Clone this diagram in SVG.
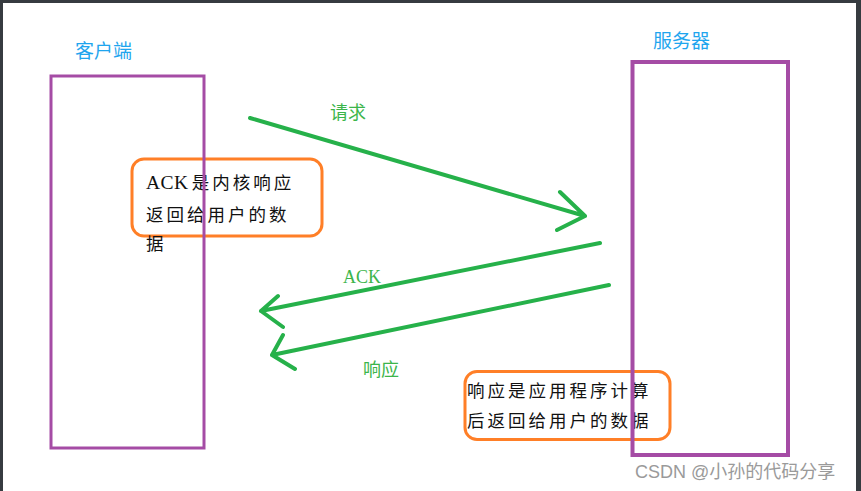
<svg xmlns="http://www.w3.org/2000/svg" width="861" height="491" viewBox="0 0 861 491">
<style>
.frame{fill:#363b40}
.host{fill:none;stroke:#a54ca5}
.title{font-family:"Noto Sans CJK SC","Noto Sans",sans-serif;font-size:19px;fill:#1fa5ee}
.note{fill:none;stroke:#ff7f27;stroke-width:3}
.ntext{font-family:"Liberation Serif","Noto Sans CJK SC",serif;font-size:17.5px;fill:#111;letter-spacing:3px}
.lat{letter-spacing:0.5px;font-size:19.5px}
.arrow{fill:none;stroke:#26b14a;stroke-width:4;stroke-linecap:round;stroke-linejoin:round}
.lbl{font-family:"Liberation Serif","Noto Sans CJK SC",serif;font-size:18px;fill:#3cb54a}
.wm{font-family:"Liberation Sans","Noto Sans CJK SC",sans-serif;font-size:18px;fill:#9a9a9a}
</style>
<rect width="861" height="491" fill="#ffffff"/>
<rect class="frame" x="0" y="0" width="861" height="3"/>
<rect class="frame" x="0" y="0" width="3" height="491"/>
<rect class="frame" x="856" y="0" width="5" height="491"/>

<g id="note-ack">
<rect class="note" x="132" y="159" width="190" height="77" rx="12"/>
<text class="ntext" x="146" y="189"><tspan class="lat">ACK</tspan><tspan dx="3">是内核响应</tspan></text>
<text class="ntext" x="146" y="221">返回给用户的数</text>
<text class="ntext" x="146" y="250">据</text>
</g>
<g id="note-resp">
<rect class="note" x="465" y="371.5" width="205" height="68" rx="12"/>
<text class="ntext" x="467" y="397">响应是应用程序计算</text>
<text class="ntext" x="467" y="427">后返回给用户的数据</text>
</g>

<g id="client">
<rect class="host" x="51" y="76" width="153" height="372" stroke-width="3"/>
<text class="title" x="75" y="58">客户端</text>
</g>
<g id="server">
<rect class="host" x="632.5" y="62" width="155.5" height="393" stroke-width="4"/>
<text class="title" x="653" y="48">服务器</text>
</g>

<g id="connectors">
<g id="req">
<path class="arrow" d="M250 118 L585 216 M560 192 L585 216 L557 230"/>
<text class="lbl" x="330" y="119">请求</text>
</g>
<g id="ack">
<path class="arrow" d="M600 243 L261 311 M278 296 L261 311 L283 327"/>
<text class="lbl" x="343" y="283" font-size="19.5">ACK</text>
</g>
<g id="resp">
<path class="arrow" d="M609 285 L272 355 M283 335 L272 355 L295 369"/>
<text class="lbl" x="363" y="376">响应</text>
</g>
</g>

<text class="wm" x="635" y="478">CSDN @小孙的代码分享</text>
</svg>
